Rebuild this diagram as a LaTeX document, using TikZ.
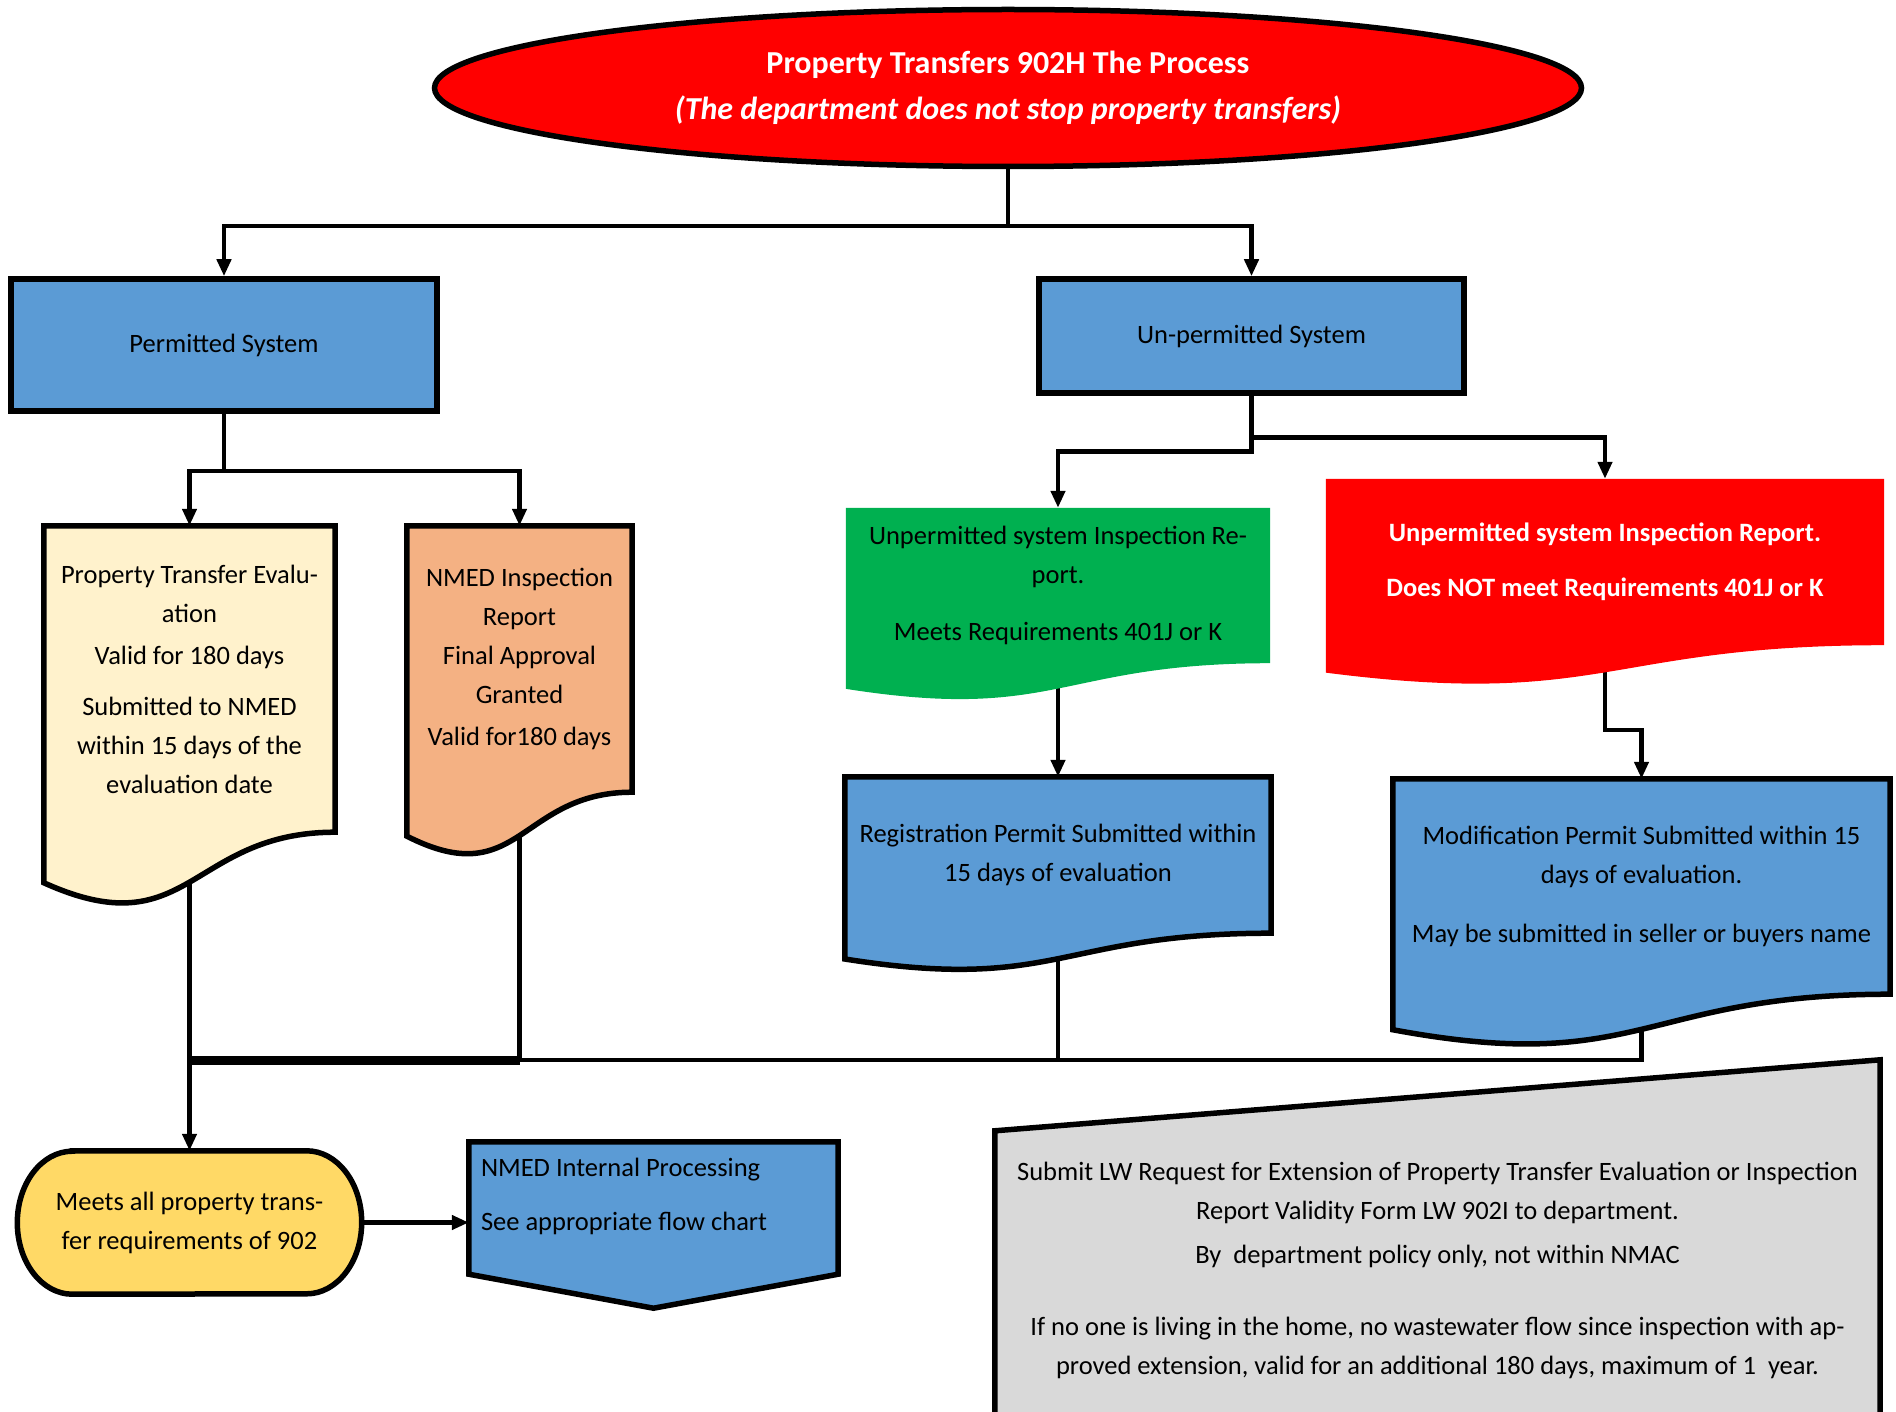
\documentclass[tikz,border=0pt]{standalone}
\usepackage{fontspec}
\setmainfont{Carlito}
\usetikzlibrary{shapes, arrows.meta, positioning, shapes.geometric, calc}

\definecolor{procblue}{HTML}{5B9BD5}
\definecolor{docyellow}{HTML}{FFF2CC}
\definecolor{docorange}{HTML}{F4B183}
\definecolor{docgreen}{HTML}{00B050}
\definecolor{termyellow}{HTML}{FFD966}
\definecolor{panelgray}{HTML}{D9D9D9}

\pgfdeclarelayer{links}
\pgfdeclarelayer{shapes}
\pgfsetlayers{links,shapes,main}

% outlines drawn round the text area of a node
\newcommand{\docoutline}[1]{(#1.north west) -- (#1.north east) -- (#1.south east)
  .. controls (#1.south) and ($(#1.south)!-0.38!(#1.north)$) .. ($(#1.south west)!-0.165!(#1.north west)$) -- cycle}
\newcommand{\termoutline}[1]{([xshift=55pt]#1.north west) -- ([xshift=-55pt]#1.north east)
  arc[start angle=90, end angle=-90, x radius=55pt, y radius=71.5pt] -- ([xshift=55pt]#1.south west)
  arc[start angle=270, end angle=90, x radius=55pt, y radius=71.5pt] -- cycle}
\newcommand{\offpageoutline}[1]{(#1.north west) -- (#1.north east) -- ($(#1.south east)+(0,24)$)
  -- ($(#1.south)+(0,58)$) -- ($(#1.south west)+(0,24)$) -- cycle}

\begin{document}
\begin{tikzpicture}[x=1pt, y=-1pt, font=\fontsize{26.5}{39}\selectfont, >={Triangle[length=17pt,width=14pt]}]
    \tikzstyle{box} = [draw, rectangle, fill=procblue, line width=5.5pt, align=center, inner sep=0pt]
    \tikzstyle{doc} = [rectangle, align=center, inner sep=0pt]
    \tikzstyle{outline} = [draw, line width=5.5pt]
    \tikzstyle{link} = [draw, line width=4.5pt]

    \useasboundingbox (0,0) rectangle (1896,1412);

    \node[ellipse, draw, line width=5.5pt, fill=red, text=white, align=center, inner sep=0pt,
          font=\fontsize{32}{46}\selectfont\bfseries, minimum width=1147, minimum height=157] (title) at (1008,88)
        {Property Transfers 902H The Process\\{\itshape (The department does not stop property transfers)}};

    \node[box, minimum width=426, minimum height=132] (permitted) at (224,345) {Permitted System};
    \node[box, minimum width=425, minimum height=114] (unpermitted) at (1251.5,336) {Un-permitted System};

    \node[doc, minimum width=291, minimum height=306] (ptreval) at (189.5,679)
        {Property Transfer Evalu-\\ation\\[3pt]Valid for 180 days\\[12pt]Submitted to NMED\\within 15 days of the\\evaluation date};
    \node[doc, minimum width=225, minimum height=266] (nmedrep) at (519.5,659)
        {NMED Inspection\\Report\\Final Approval\\Granted\\[3pt]Valid for180 days};
    \node[doc, minimum width=424, minimum height=155] (meetsreq) at (1058,585.5)
        {Unpermitted system Inspection Re-\\port.\\[18pt]Meets Requirements 401J or K};
    \node[doc, minimum width=558, minimum height=166, text=white, font=\fontsize{26.5}{39}\selectfont\bfseries] (failsreq) at (1605,562)
        {Unpermitted system Inspection Report.\\[16pt]Does NOT meet Requirements 401J or K};
    \node[doc, minimum width=426, minimum height=156] (regpermit) at (1058,855)
        {Registration Permit Submitted within\\15 days of evaluation};
    \node[doc, minimum width=497, minimum height=215] (modpermit) at (1641.5,886.5)
        {Modification Permit Submitted within 15\\days of evaluation.\\[20pt]May be submitted in seller or buyers name};

    \coordinate (merge) at (189.5,1060);

    \node[doc, minimum width=344, minimum height=143] (allreq) at (189.5,1222.5)
        {Meets all property trans-\\fer requirements of 902};
    \node[doc, minimum width=369, minimum height=108, align=flush left, text width=345] (nmedint) at (653.5,1196)
        {NMED Internal Processing\\[15pt]See appropriate flow chart};
    \node[doc, minimum width=885, minimum height=278] (extension) at (1437.5,1270)
        {Submit LW Request for Extension of Property Transfer Evaluation or Inspection\\
         Report Validity Form LW 902I to department.\\[5pt]
         By\ \ department policy only, not within NMAC\\[33pt]
         If no one is living in the home, no wastewater flow since inspection with ap-\\
         proved extension, valid for an additional 180 days, maximum of 1\ \ year.};

    \begin{pgfonlayer}{shapes}
        \path[outline, fill=docyellow] \docoutline{ptreval};
        \path[outline, fill=docorange] \docoutline{nmedrep};
        \path[fill=docgreen] \docoutline{meetsreq};
        \path[fill=red] \docoutline{failsreq};
        \path[outline, fill=procblue] \docoutline{regpermit};
        \path[outline, fill=procblue] \docoutline{modpermit};
        \path[outline, fill=termyellow] \termoutline{allreq};
        \path[outline, fill=procblue] \offpageoutline{nmedint};
        \path[outline, fill=panelgray] (extension.north west) -- ($(extension.north east)+(0,-71)$)
            -- ($(extension.south east)+(0,14)$) -- ($(extension.south west)+(0,14)$) -- cycle;
    \end{pgfonlayer}

    \begin{pgfonlayer}{links}
        \draw[link, ->] (title.south) -- ++(0,57) -| (permitted.north);
        \draw[link, ->] (title.south) -- ++(0,57) -| (unpermitted.north);
        \draw[link, ->] (permitted.south) -- ++(0,57) -| (ptreval.north);
        \draw[link, ->] (permitted.south) -- ++(0,57) -| (nmedrep.north);
        \draw[link, ->] (unpermitted.south) -- ++(0,56) -| (meetsreq.north);
        \draw[link, ->] (unpermitted.south) -- ++(0,42) -| (failsreq.north);
        \draw[link, ->] (meetsreq.south) -- (regpermit.north);
        \draw[link, ->] (failsreq.south) -- ++(0,85) -| (modpermit.north);
        \draw[link] (nmedrep.south) |- (merge);
        \draw[link, line width=9pt] (merge) -- (merge -| nmedrep.south);
        \draw[link] (regpermit.south) |- (merge);
        \draw[link] (modpermit.south) |- (merge);
        \draw[link, ->] (ptreval.south) -- (merge) -- (allreq.north);
        \draw[link, ->] (allreq.east) -- (allreq.east -| nmedint.west);
    \end{pgfonlayer}
\end{tikzpicture}
\end{document}
